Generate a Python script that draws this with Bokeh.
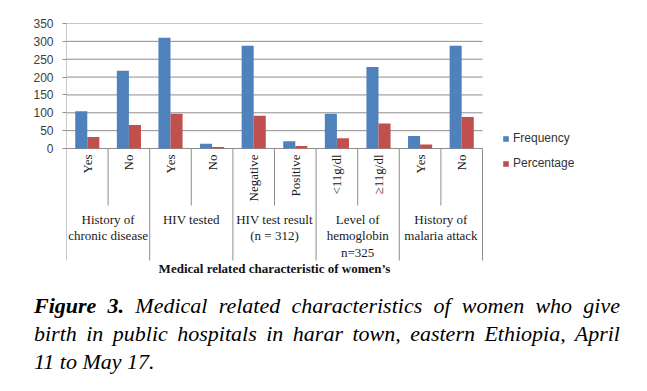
from bokeh.plotting import figure
from bokeh.models import (Range1d, FixedTicker, Legend, LegendItem, ColumnDataSource, Div)
from bokeh.layouts import column
from bokeh.core.properties import value
from bokeh.embed import file_html
from bokeh.resources import INLINE

# ---- data ----
sub_labels = ["Yes", "No", "Yes", "No", "Negative", "Positive", "<11g/dl", "\u226511g/dl", "Yes", "No"]
group_labels = ["History of\nchronic disease", "HIV tested", "HIV test result\n(n = 312)",
                "Level of\nhemoglobin\nn=325", "History of\nmalaria attack"]
group_sizes = [2, 2, 2, 2, 2]
frequency = [104, 218, 310, 13, 288, 20, 97, 228, 35, 288]
percentage = [32, 66, 97, 4, 92, 7, 29, 70, 11, 88]
y_ticks = [0, 50, 100, 150, 200, 250, 300, 350]
x_title = "Medical related characteristic of women\u2019s"

BLUE = "#4F81BD"
RED = "#C0504D"
GRID = "#8e8e8e"

n = len(sub_labels)
centers = [i + 0.5 for i in range(n)]
bw = 0.29

W, H = 640, 280
frame_left, frame_top = 66, 23
cat_px = 41.6
px_per_unit = 125 / 350.0
zero_px = 148
x_end = (W - frame_left) / cat_px
y_low = -(H - zero_px) / px_per_unit

def yv(px):
    return -(px - zero_px) / px_per_unit

p = figure(width=W, height=H, output_backend="svg", toolbar_location=None,
           x_range=Range1d(0, x_end), y_range=Range1d(y_low, 350),
           min_border_left=frame_left, min_border_right=0, min_border_top=frame_top,
           min_border_bottom=0)
p.outline_line_color = None
p.xaxis.visible = False
p.xgrid.grid_line_color = None
p.ygrid.grid_line_color = None

# gridlines (only over the category area)
p.segment(x0=[0] * len(y_ticks), x1=[n] * len(y_ticks), y0=y_ticks, y1=y_ticks,
          line_color=GRID, line_width=1)

src = ColumnDataSource(dict(
    xb=[c - bw / 2 for c in centers],
    xr=[c + bw / 2 for c in centers],
    freq=frequency, pct=percentage))
rb = p.vbar(x="xb", top="freq", bottom=0, width=bw, source=src, fill_color=BLUE, line_color=None)
rr = p.vbar(x="xr", top="pct", bottom=0, width=bw, source=src, fill_color=RED, line_color=None)

# y axis
ya = p.yaxis[0]
ya.ticker = FixedTicker(ticks=y_ticks)
ya.axis_line_color = None
ya.major_tick_line_color = GRID
ya.major_tick_out = 4
ya.major_tick_in = 0
ya.minor_tick_line_color = None
ya.major_label_standoff = 9
ya.major_label_text_font = "Liberation Sans"
ya.major_label_text_font_size = "12px"
ya.major_label_text_color = "#404040"

# category dividers (group dividers include left axis line)
y_grp_bottom = yv(260)
y_sub_bottom = yv(205)
sub_div_x = []
grp_div_x = [0]
pos = 0
for g in group_sizes:
    for k in range(1, g):
        sub_div_x.append(pos + k)
    pos += g
    grp_div_x.append(pos)
p.segment(x0=sub_div_x, x1=sub_div_x, y0=[0] * len(sub_div_x), y1=[y_sub_bottom] * len(sub_div_x),
          line_color=GRID, line_width=1)
p.segment(x0=grp_div_x, x1=grp_div_x, y0=[350 if x == 0 else 0 for x in grp_div_x],
          y1=[y_grp_bottom] * len(grp_div_x), line_color=GRID, line_width=1)

# sub labels (rotated)
p.text(x=centers, y=[yv(154)] * n, text=sub_labels, angle=1.5708,
       text_align="right", text_baseline="middle",
       text_font=value("Liberation Serif"), text_font_size="13px", text_color="#1a1a1a")

# group labels
gc = []
pos = 0
for g in group_sizes:
    gc.append(pos + g / 2)
    pos += g
p.text(x=gc, y=[yv(211)] * len(gc), text=group_labels, text_align="center", text_baseline="top",
       text_font=value("Liberation Serif"), text_font_size="13px", text_color="#1a1a1a",
       text_line_height=1.1)

# axis title
p.text(x=[n / 2], y=[yv(268)], text=[x_title], text_align="center", text_baseline="middle",
       text_font=value("Liberation Serif"), text_font_size="13px", text_font_style="bold",
       text_color="#111111")

legend = Legend(items=[LegendItem(label="Frequency", renderers=[rb]),
                       LegendItem(label="Percentage", renderers=[rr])],
                location=(436, 110), padding=0, margin=0, spacing=11,
                glyph_width=7, glyph_height=7, label_height=12, label_standoff=4,
                label_text_font="Liberation Sans", label_text_font_size="12px",
                label_text_color="#333333", border_line_color=None,
                background_fill_alpha=0)
p.add_layout(legend)

caption = Div(width=W, height=95, text=(
    '<div style="font-family: Liberation Serif, Times New Roman, serif; font-size:22px; '
    'line-height:28px; font-style:italic; color:#000; margin-left:29px; width:586px; '
    'margin-top:7px;">'
    '<div style="text-align:justify; text-align-last:justify;"><b>Figure 3.</b> '
    'Medical related characteristics of women who give</div>'
    '<div style="text-align:justify; text-align-last:justify;">'
    'birth in public hospitals in harar town, eastern Ethiopia, April</div>'
    '<div>11 to May 17.</div></div>'))

layout = column(p, caption)
open("out.html", "w").write(file_html(layout, INLINE))
